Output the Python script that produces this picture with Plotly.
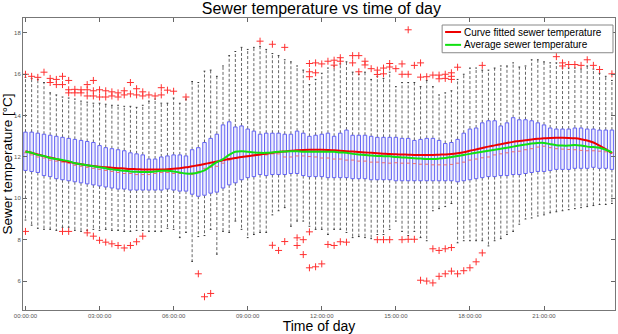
import plotly.graph_objects as go

# ---------------- data (15-minute bins, 96 per day) ----------------
tick_idx = [0, 12, 24, 36, 48, 60, 72, 84]
tick_text = ["00:00:00", "03:00:00", "06:00:00", "09:00:00",
             "12:00:00", "15:00:00", "18:00:00", "21:00:00"]
y_ticks = [6, 8, 10, 12, 14, 16, 18]

q3 = [13.2, 13.2, 13.15, 13.1, 13.05, 13.0, 12.95, 12.9, 12.85, 12.8, 12.75, 12.7,
      12.55, 12.45, 12.4, 12.35, 12.3, 12.2, 12.15, 12.1, 11.9, 11.9, 12.0, 12.05,
      12.1, 12.1, 12.05, 12.35, 12.45, 12.7, 12.9, 13.1, 13.55, 13.7, 13.45, 13.5,
      13.35, 13.25, 13.1, 13.15, 13.15, 13.15, 13.1, 13.1, 13.25, 13.15, 13.0, 13.05,
      13.1, 13.15, 13.0, 13.15, 13.3, 13.05, 13.05, 13.05, 13.0, 12.95, 12.95, 12.95,
      12.95, 12.9, 12.9, 12.8, 12.85, 12.9, 12.9, 12.8, 12.65, 12.7, 12.85, 13.15,
      13.35, 13.4, 13.65, 13.75, 13.75, 13.5, 13.65, 13.9, 13.8, 13.8, 13.75, 13.65,
      13.55, 13.4, 13.35, 13.35, 13.35, 13.4, 13.4, 13.35, 13.35, 13.3, 13.3, 13.3]

median = [12.2, 12.1, 12.0, 11.95, 11.85, 11.8, 11.75, 11.7, 11.6, 11.55, 11.5, 11.45,
          11.4, 11.35, 11.3, 11.25, 11.2, 11.2, 11.15, 11.15, 11.15, 11.2, 11.25, 11.25,
          11.2, 11.2, 11.2, 11.15, 11.3, 11.45, 11.5, 11.55, 11.7, 11.85, 11.95, 12.0,
          12.05, 12.05, 12.1, 12.1, 12.15, 12.15, 12.0, 12.0, 12.05, 12.05, 12.02, 12.0,
          11.95, 11.95, 11.9, 11.9, 11.85, 11.85, 11.8, 11.8, 11.75, 11.75, 11.72, 11.7,
          11.72, 11.7, 11.7, 11.68, 11.65, 11.65, 11.62, 11.62, 11.62, 11.64, 11.7, 11.75,
          11.85, 11.9, 11.96, 12.0, 12.1, 12.15, 12.2, 12.25, 12.28, 12.35, 12.4, 12.48,
          12.52, 12.45, 12.4, 12.38, 12.36, 12.35, 12.32, 12.3, 12.3, 12.28, 12.25, 12.2]

q1 = [11.35, 11.3, 11.25, 11.1, 11.05, 10.95, 10.9, 10.85, 10.8, 10.75, 10.7, 10.65,
      10.6, 10.55, 10.5, 10.45, 10.45, 10.4, 10.4, 10.4, 10.4, 10.4, 10.4, 10.45,
      10.4, 10.35, 10.35, 10.2, 10.1, 10.15, 10.25, 10.3, 10.5, 10.65, 10.75, 10.9,
      11.0, 11.05, 11.15, 11.1, 11.15, 11.15, 11.15, 11.2, 11.2, 11.1, 11.05, 11.05,
      11.05, 11.0, 11.0, 11.0, 11.0, 10.95, 10.95, 10.95, 10.9, 10.9, 10.9, 10.9,
      10.85, 10.85, 10.85, 10.85, 10.85, 10.85, 10.85, 10.85, 10.85, 10.85, 10.8, 10.85,
      10.9, 10.95, 11.0, 11.05, 11.05, 11.1, 11.1, 11.15, 11.15, 11.2, 11.25, 11.3,
      11.3, 11.35, 11.4, 11.4, 11.4, 11.45, 11.45, 11.45, 11.5, 11.45, 11.45, 11.4]

whisk_hi = [15.85, 15.8, 15.75, 15.6, 15.1, 15.0, 14.9, 14.85, 14.8, 14.7, 14.65, 14.6,
            14.6, 14.55, 14.5, 14.5, 14.45, 14.45, 14.4, 14.5, 14.7, 14.8, 14.6, 14.6,
            14.85, 14.6, 14.8, 15.65, 15.6, 16.15, 16.2, 15.9, 16.4, 16.9, 17.1, 17.3,
            17.2, 17.3, 17.35, 17.2, 17.0, 16.9, 16.7, 16.6, 16.4, 16.2, 15.5, 15.75,
            16.05, 16.3, 16.4, 16.5, 16.6, 16.1, 16.0, 16.1, 15.75, 15.9, 15.8, 16.1,
            15.4, 15.6, 15.6, 15.6, 15.4, 15.7, 15.4, 15.0, 15.1, 15.2, 15.75, 16.0,
            16.3, 16.3, 16.2, 16.2, 16.3, 16.4, 16.4, 16.55, 16.35, 16.4, 16.7, 16.7,
            16.6, 16.55, 16.55, 16.3, 16.3, 16.3, 16.25, 16.4, 16.25, 16.05, 15.9, 15.7]

whisk_lo = [8.95, 8.7, 8.55, 8.5, 8.5, 8.45, 8.6, 8.6, 8.45, 8.4, 8.45, 8.5,
            8.45, 8.5, 8.45, 8.45, 8.4, 8.4, 8.45, 8.45, 8.4, 8.4, 8.4, 8.55,
            8.5, 8.1, 8.35, 6.95, 8.15, 8.2, 8.5, 7.3, 8.4, 8.35, 8.9, 8.5,
            8.1, 8.25, 8.35, 8.35, 9.2, 9.4, 9.55, 8.65, 8.9, 8.9, 8.65, 8.5,
            8.5, 8.25, 8.5, 8.5, 8.35, 8.1, 8.15, 8.1, 8.05, 8.25, 8.25, 8.5,
            8.9, 8.4, 8.2, 8.4, 8.1, 7.95, 9.4, 9.5, 9.6, 9.75, 7.85, 7.95,
            7.95, 7.95, 7.95, 7.7, 7.95, 8.05, 8.25, 8.4, 8.75, 9.0, 9.05, 9.15,
            9.2, 9.3, 9.35, 9.4, 9.45, 9.5, 9.55, 9.6, 9.65, 9.7, 9.7, 9.75]

# outliers, night-time high readings
out_hi_night_idx = [0, 1, 2, 3, 4, 4, 5, 5, 6, 6, 7, 7, 7, 8, 8, 9, 9, 10, 10, 10,
                    11, 11, 11, 12, 12, 13, 13, 14, 14, 15, 15, 16, 16, 17, 17, 18, 18,
                    19, 19, 20, 21, 22, 22, 23, 24, 26]
out_hi_night_val = [16.0, 15.9, 15.85, 16.1, 15.8, 15.6, 15.75, 15.5, 15.9, 15.5,
                    15.7, 15.25, 15.1, 15.27, 15.1, 15.25, 15.1, 15.5, 15.25, 14.95,
                    15.7, 15.2, 14.95, 15.25, 14.9, 15.2, 14.9, 15.15, 14.95, 15.1, 14.9,
                    15.2, 15.0, 15.6, 15.05, 15.3, 15.0, 15.15, 14.95, 15.0, 14.95,
                    15.35, 15.0, 15.23, 15.18, 14.9]
# outliers, day-time high readings
out_hi_day_idx = [38, 40, 42, 46, 46, 46, 47, 47, 48, 49, 50, 50, 51, 51, 53, 53, 54, 54,
                  55, 55, 56, 57, 57, 58, 58, 59, 59, 60, 61, 61, 62, 62, 63, 64, 64, 65,
                  66, 67, 67, 68, 68, 69, 69, 69, 70, 74, 86, 87, 87, 88, 89, 90, 91, 92,
                  93, 95]
out_hi_day_val = [17.6, 17.45, 17.3, 16.52, 16.12, 15.88, 16.55, 16.07, 16.5, 16.63,
                  16.68, 16.44, 16.8, 16.63, 16.9, 16.55, 16.9, 16.12, 16.63, 16.45,
                  16.27, 16.2, 15.99, 16.3, 16.02, 16.52, 16.35, 16.27, 16.5, 16.0,
                  18.15, 16.0, 16.43, 16.55, 15.86, 15.88, 15.96, 15.96, 15.78, 16.0,
                  15.8, 16.07, 15.9, 15.75, 16.34, 16.43, 16.85, 16.55, 16.4, 16.47,
                  16.47, 16.43, 16.7, 16.43, 16.23, 16.02]
# outliers, low readings
out_lo_night_idx = [0, 6, 7, 10, 11, 12, 13, 14, 15, 16, 17, 18, 19]
out_lo_night_val = [8.4, 8.4, 8.4, 8.33, 8.17, 7.97, 7.88, 7.8, 7.72, 7.6, 7.72, 7.9, 8.17]
out_lo_day_idx = [28, 29, 30, 40, 41, 42, 44, 44, 45, 45, 46, 46, 47, 48, 49, 50, 51, 52,
                  57, 58, 59, 61, 62, 63, 66, 67, 68, 69,
                  64, 65, 66, 67, 68, 69, 70, 71, 72, 73, 74]
out_lo_day_val = [6.35, 5.24, 5.4, 7.73, 7.48, 7.91, 8.09, 7.72, 8.0, 7.28, 8.38, 6.64,
                  6.69, 6.83, 7.77, 7.72, 7.9, 7.88,
                  8.0, 8.0, 8.0, 8.0, 8.02, 8.02, 7.56, 7.48, 7.56, 7.62,
                  6.04, 6.0, 5.91, 6.23, 6.35, 6.48, 6.35, 6.5, 6.64, 6.93, 7.36]

avg_temp = [12.25, 12.2, 12.1, 12.05, 11.95, 11.9, 11.85, 11.8, 11.7, 11.65, 11.6, 11.55,
            11.5, 11.45, 11.4, 11.37, 11.33, 11.3, 11.28, 11.27, 11.27, 11.3, 11.33, 11.33,
            11.3, 11.25, 11.2, 11.2, 11.25, 11.35, 11.55, 11.75, 11.9, 12.1, 12.25, 12.28,
            12.25, 12.22, 12.2, 12.2, 12.22, 12.25, 12.27, 12.28, 12.28, 12.25, 12.25, 12.25,
            12.25, 12.25, 12.25, 12.22, 12.2, 12.15, 12.12, 12.1, 12.07, 12.05, 12.04, 12.03,
            12.0, 11.98, 11.96, 11.94, 11.92, 11.9, 11.9, 11.92, 11.95, 12.0, 12.05, 12.1,
            12.15, 12.2, 12.25, 12.3, 12.35, 12.4, 12.45, 12.5, 12.55, 12.6, 12.65, 12.68,
            12.68, 12.62, 12.57, 12.55, 12.55, 12.58, 12.55, 12.5, 12.48, 12.45, 12.35, 12.22]

fit_temp = [12.28, 12.2, 12.12, 12.04, 11.97, 11.9, 11.82, 11.76, 11.7, 11.65, 11.6, 11.56,
            11.53, 11.5, 11.48, 11.46, 11.44, 11.42, 11.41, 11.4, 11.4, 11.4, 11.4, 11.41,
            11.43, 11.46, 11.5, 11.55, 11.6, 11.66, 11.72, 11.78, 11.84, 11.9, 11.95, 12.0,
            12.04, 12.08, 12.12, 12.16, 12.2, 12.24, 12.27, 12.3, 12.32, 12.34, 12.35, 12.35,
            12.35, 12.34, 12.32, 12.3, 12.28, 12.26, 12.24, 12.22, 12.2, 12.18, 12.16, 12.14,
            12.13, 12.12, 12.11, 12.1, 12.1, 12.1, 12.1, 12.11, 12.12, 12.14, 12.18, 12.23,
            12.3, 12.36, 12.43, 12.5, 12.56, 12.62, 12.68, 12.73, 12.77, 12.81, 12.85, 12.88,
            12.9, 12.92, 12.93, 12.93, 12.92, 12.9, 12.86, 12.8, 12.7, 12.55, 12.38, 12.18]

legend_names = ["Curve fitted sewer temperature", "Average sewer temperature"]
fit_color = "#ee0000"
avg_color = "#11e011"

# ---------------- build marks from the data ----------------
n = len(q3)
idx = list(range(n))
hw = 0.28      # half box width (bin units)
cw = 0.14      # half whisker-cap width

box_x, box_y, med_x, med_y = [], [], [], []
wh_x, wh_y, cap_x, cap_y = [], [], [], []
for i in idx:
    box_x += [i - hw, i + hw, i + hw, i - hw, i - hw, None]
    box_y += [q1[i], q1[i], q3[i], q3[i], q1[i], None]
    med_x += [i - hw, i + hw, None]
    med_y += [median[i], median[i], None]
    wh_x += [i, i, None, i, i, None]
    wh_y += [q3[i], whisk_hi[i], None, q1[i], whisk_lo[i], None]
    cap_x += [i - cw, i + cw, None, i - cw, i + cw, None]
    cap_y += [whisk_hi[i], whisk_hi[i], None, whisk_lo[i], whisk_lo[i], None]

out_x, out_y = [], []
for ix, vx in [(out_hi_night_idx, out_hi_night_val), (out_hi_day_idx, out_hi_day_val),
               (out_lo_night_idx, out_lo_night_val), (out_lo_day_idx, out_lo_day_val)]:
    for a, b in zip(ix, vx):
        out_x.append(a)
        out_y.append(b)

fig = go.Figure()
fig.add_trace(go.Scatter(x=wh_x, y=wh_y, mode="lines", showlegend=False, hoverinfo="skip",
                         line=dict(color="#666666", width=1, dash="3px,2px")))
fig.add_trace(go.Scatter(x=cap_x, y=cap_y, mode="lines", showlegend=False, hoverinfo="skip",
                         line=dict(color="#333333", width=1)))
fig.add_trace(go.Scatter(x=box_x, y=box_y, mode="lines", fill="toself",
                         fillcolor="rgba(215,215,250,0.5)", showlegend=False, hoverinfo="skip",
                         line=dict(color="#6464f4", width=1)))
fig.add_trace(go.Scatter(x=med_x, y=med_y, mode="lines", showlegend=False, hoverinfo="skip",
                         line=dict(color="#f07070", width=1)))
fig.add_trace(go.Scatter(x=out_x, y=out_y, mode="markers", showlegend=False,
                         marker=dict(symbol="cross-thin", size=5,
                                     line=dict(color="#ff3030", width=1))))
fig.add_trace(go.Scatter(x=idx, y=fit_temp, mode="lines", name=legend_names[0],
                         showlegend=False, line=dict(color=fit_color, width=2, shape="spline")))
fig.add_trace(go.Scatter(x=idx, y=avg_temp, mode="lines", name=legend_names[1],
                         showlegend=False, line=dict(color=avg_color, width=2, shape="spline")))

# compact MATLAB-like legend drawn in paper coordinates
lx0, lx1, ly0, ly1 = 0.708, 0.9966, 0.881, 0.976
rows = [0.952, 0.908]
shapes = [dict(type="rect", xref="paper", yref="paper", x0=lx0, x1=lx1, y0=ly0, y1=ly1,
               line=dict(color="#888888", width=1), fillcolor="white", layer="above")]
annotations = []
for name, col, yy in zip(legend_names, [fit_color, avg_color], rows):
    shapes.append(dict(type="line", xref="paper", yref="paper", x0=lx0 + 0.005, x1=lx0 + 0.032,
                       y0=yy, y1=yy, line=dict(color=col, width=2), layer="above"))
    annotations.append(dict(xref="paper", yref="paper", x=lx0 + 0.033, y=yy, xanchor="left",
                            yanchor="middle", text=name, showarrow=False,
                            font=dict(size=10, color="black")))

fig.update_layout(
    width=618, height=334,
    margin=dict(l=23, r=3, t=18, b=24),
    paper_bgcolor="white", plot_bgcolor="white",
    font=dict(family="Liberation Sans, Arial, sans-serif", color="black"),
    title=dict(text="Sewer temperature vs time of day", x=0.52, xanchor="center",
               y=0.975, yanchor="middle", font=dict(size=16, color="black")),
    showlegend=False,
    shapes=shapes, annotations=annotations,
)
fig.update_xaxes(range=[-0.4, 95.5], tickmode="array", tickvals=tick_idx, ticktext=tick_text,
                 ticks="inside", ticklen=4, tickcolor="#666666", showgrid=False, zeroline=False,
                 showline=True, linecolor="#777777", linewidth=1, mirror="ticks",
                 tickfont=dict(size=6, color="#555555"),
                 title=dict(text="Time of day", font=dict(size=14, color="black"), standoff=1))
fig.update_yaxes(range=[4.6, 18.72], tickmode="array", tickvals=y_ticks,
                 ticks="inside", ticklen=4, tickcolor="#666666", showgrid=False, zeroline=False,
                 showline=True, linecolor="#777777", linewidth=1, mirror="ticks",
                 tickfont=dict(size=6, color="#555555"),
                 title=dict(text="Sewer temperature [°C]", font=dict(size=13.5, color="black"),
                            standoff=2))

fig.write_html("out.html")
